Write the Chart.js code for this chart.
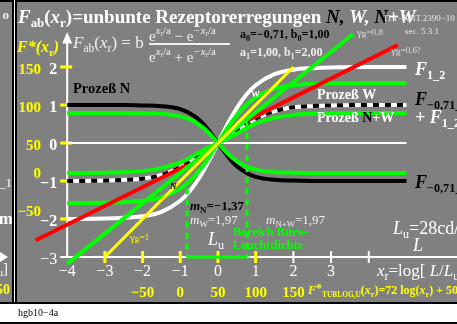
<!DOCTYPE html>
<html>
<head>
<meta charset="utf-8">
<style>
html, body { margin: 0; padding: 0; background: #fff; overflow: hidden; }
canvas { display: block; }
</style>
</head>
<body>
<canvas id="c" width="457" height="324"></canvas>
<script src="https://cdn.jsdelivr.net/npm/chart.js@4/dist/chart.umd.min.js"></script>
<script>
// x_r = log[L/Lu], Stuetzstellen der Kurven
var xs = [-4, -3, -2.5, -2, -1.5, -1, -0.75, -0.5, -0.25, 0, 0.25, 0.5, 0.75, 1, 1.5, 2, 2.5, 3, 4, 5];
// Prozess N  (a0=-0,71, b0=1,00)
var procN = [1.00, 1.00, 1.00, 0.99, 0.97, 0.89, 0.78, 0.61, 0.34, 0, -0.34, -0.61, -0.78, -0.89, -0.97, -0.99, -1.00, -1.00, -1.00, -1.00];
// Prozess W  (a1=1,00, b1=2,00)
var procW = [-2.00, -1.99, -1.97, -1.93, -1.81, -1.52, -1.27, -0.92, -0.49, 0, 0.49, 0.92, 1.27, 1.52, 1.81, 1.93, 1.97, 1.99, 2.00, 2.00];
// Prozess N+W
var procNW = [-1.00, -0.99, -0.97, -0.94, -0.84, -0.64, -0.49, -0.32, -0.15, 0, 0.15, 0.32, 0.49, 0.64, 0.84, 0.94, 0.97, 0.99, 1.00, 1.00];
// gruene Kurven
var greenN = [0.79, 0.79, 0.79, 0.78, 0.77, 0.70, 0.62, 0.48, 0.27, 0, -0.27, -0.48, -0.62, -0.70, -0.77, -0.78, -0.79, -0.79, -0.79, -0.79];
var greenW = [-1.58, -1.57, -1.56, -1.52, -1.43, -1.20, -1.00, -0.73, -0.39, 0, 0.39, 0.73, 1.00, 1.20, 1.43, 1.52, 1.56, 1.57, 1.58, 1.58];
var greenNW = [-0.79, -0.78, -0.77, -0.74, -0.66, -0.51, -0.39, -0.25, -0.12, 0, 0.12, 0.25, 0.39, 0.51, 0.66, 0.74, 0.77, 0.78, 0.79, 0.79];

// Geraden gamma_R
var gam1X = [-3, 2], gam1Y = [-3, 2];             // gamma_R = 1
var gam08X = [-4, 3.58], gam08Y = [-3.18, 2.86];  // gamma_R = 0,8
var gam06aX = [-4.83, -0.82], gam06aY = [-2.56, -0.58];
var gam06bX = [0.8, 4.77], gam06bY = [0.6, 2.58];

// Bereich Buero-Leuchtdichte
var bereichX = [-0.82, 0.77];
var bereichTop = [-1.2, 0.55];

var xTicks = [-4, -3, -2, -1, 0, 1, 2, 3];
var yTicks = [2, 1, 0, -1, -2, -3];
var fStarBottom = [-50, 0, 50, 100, 150];   // bei x = -2 .. 2
var fStarLeft = [150, 100, 50, 0, -50];     // bei y = 2 .. -2

var GREY = '#808080';
var SERIF = '"Liberation Serif", "Times New Roman", serif';

function pts(xa, ya) {
    return xa.map(function (x, i) { return { x: x, y: ya[i] }; });
}

// Text mit Indizes: parts = [text, flags, color, scale, dy]
function rich(ctx, x, y, parts, size, color, align) {
    var runs = [], w = 0;
    parts.forEach(function (p) {
        var f = p[1] || '';
        var sc = p[3] || (f.indexOf('_') >= 0 || f.indexOf('^') >= 0 ? 0.68 : 1);
        var dy = p[4] !== undefined ? p[4] : (f.indexOf('_') >= 0 ? 0.3 : (f.indexOf('^') >= 0 ? -0.4 : 0));
        var font = (f.indexOf('i') >= 0 ? 'italic ' : '') + (f.indexOf('b') >= 0 ? 'bold ' : '') +
            (size * sc).toFixed(1) + 'px ' + SERIF;
        ctx.font = font;
        var tw = ctx.measureText(p[0]).width;
        runs.push({ t: p[0], font: font, dy: dy * size, c: p[2] || color, w: tw });
        w += tw;
    });
    if (align === 'right') x -= w;
    else if (align === 'center') x -= w / 2;
    ctx.textBaseline = 'middle';
    ctx.textAlign = 'left';
    runs.forEach(function (r) {
        ctx.font = r.font;
        ctx.fillStyle = r.c;
        ctx.fillText(r.t, x, y + r.dy);
        x += r.w;
    });
    return w;
}

var framePlugin = {
    id: 'frame',
    beforeDraw: function (chart) {
        var ctx = chart.ctx;
        ctx.save();
        ctx.fillStyle = '#fff';
        ctx.fillRect(0, 0, 457, 324);
        ctx.fillStyle = GREY;
        ctx.fillRect(0, 0, 457, 303);
        ctx.fillStyle = '#000';
        ctx.fillRect(0, 0, 457, 2);
        ctx.fillRect(12, 0, 2, 303);
        ctx.fillRect(15, 0, 2, 303);
        ctx.fillRect(0, 302, 457, 2);
        ctx.fillRect(0, 322, 457, 2);
        ctx.fillStyle = '#fff';
        ctx.fillRect(14, 0, 1, 302);

        // Reste des Nachbarbildes links
        ctx.beginPath();
        ctx.rect(0, 2, 12, 300);
        ctx.clip();
        rich(ctx, 9, 16, [['o', 'b']], 13, '#eee', 'right');
        rich(ctx, 12, 184, [['_1', '']], 13, '#fff', 'right');
        rich(ctx, 13, 220, [['m', 'b']], 17, '#fff', 'right');
        ctx.fillStyle = '#fff';
        ctx.beginPath();
        ctx.moveTo(0, 252); ctx.lineTo(8, 257); ctx.lineTo(0, 262); ctx.closePath();
        ctx.fill();
        rich(ctx, 8, 269, [['u', '_'], [']', '']], 15, '#fff', 'right');
        rich(ctx, 10, 290, [['150', 'b']], 14, '#ff0', 'right');
        ctx.restore();

        ctx.save();
        rich(ctx, 18, 313, [['hgb10\u22124a', '']], 10, '#000');
        ctx.restore();
    },
    beforeDatasetsDraw: function (chart) {
        var ctx = chart.ctx, sx = chart.scales.x, sy = chart.scales.y;
        var px = function (v) { return sx.getPixelForValue(v); };
        var py = function (v) { return sy.getPixelForValue(v); };
        ctx.save();
        ctx.strokeStyle = '#fff';
        ctx.lineWidth = 2;
        ctx.beginPath();
        ctx.moveTo(px(-4), py(-3));
        ctx.lineTo(px(-4), py(2.75));
        ctx.moveTo(px(-4), py(-3));
        ctx.lineTo(457, py(-3));
        ctx.stroke();
        // Pfeil y-Achse
        ctx.fillStyle = '#fff';
        ctx.beginPath();
        ctx.moveTo(px(-4), py(2.92));
        ctx.lineTo(px(-4) - 5, py(2.62));
        ctx.lineTo(px(-4) + 5, py(2.62));
        ctx.closePath();
        ctx.fill();
        // Teilstriche
        yTicks.forEach(function (v) {
            ctx.strokeStyle = v >= -2 ? '#ff0' : '#fff';
            ctx.lineWidth = v >= -2 ? 3 : 2;
            ctx.beginPath();
            ctx.moveTo(px(-4) - 7, py(v));
            ctx.lineTo(px(-4) + 5, py(v));
            ctx.stroke();
        });
        [-3, -2, -1, 0, 1, 2, 3, 4].forEach(function (v) {
            ctx.strokeStyle = v <= 1 ? '#ff0' : '#fff';
            ctx.lineWidth = v <= 1 ? 3 : 2;
            ctx.beginPath();
            ctx.moveTo(px(v), py(-3) - 6);
            ctx.lineTo(px(v), py(-3) + 6);
            ctx.stroke();
        });
        ctx.restore();
    },
    afterDatasetsDraw: function (chart) {
        var ctx = chart.ctx, sx = chart.scales.x, sy = chart.scales.y;
        var px = function (v) { return sx.getPixelForValue(v); };
        var py = function (v) { return sy.getPixelForValue(v); };
        ctx.save();

        // Achsenbeschriftung
        xTicks.forEach(function (v) {
            rich(ctx, px(v), py(-3) + 15, [[v < 0 ? '\u2212' + (-v) : String(v), '']], 16, '#fff', 'center');
        });
        yTicks.forEach(function (v) {
            if (v === -3) {
                rich(ctx, px(-4) - 10, py(v) + 3, [['\u22123', '']], 16, '#fff', 'right');
            } else {
                rich(ctx, px(-4) - 10, py(v) + 3, [[v < 0 ? '\u2212' + (-v) : String(v), 'b']], 16, '#fff', 'right');
            }
        });
        fStarBottom.forEach(function (v, i) {
            rich(ctx, px(i - 2), 293, [[v < 0 ? '\u2212' + (-v) : String(v), 'b']], 15, '#ff0', 'center');
        });
        fStarLeft.forEach(function (v, i) {
            var yy = py(2 - i) + (v > 0 ? 3 : -7);
            rich(ctx, 41, yy, [[v < 0 ? '\u2212' + (-v) : String(v), 'b']], 15, '#ff0', 'right');
        });

        // Titel
        rich(ctx, 18, 18, [['F', 'ib'], ['ab', 'b_'], ['(', 'b'], ['x', 'ib'], ['r', 'b_'],
            [')=unbunte Rezeptorerregungen ', 'b'], ['N,', 'ib', '#000'], [' W,', 'ib'],
            [' N', 'ib', '#000'], ['+W', 'ib']], 19, '#fff');
        rich(ctx, 384, 19, [['ITT\u2212KBT.2390\u221210', '']], 9, '#e6e6e6');
        rich(ctx, 405, 32, [['sec. 5.3.1', '']], 9, '#e6e6e6');

        rich(ctx, 17, 48, [['F*(', 'ib'], ['x', 'ib'], ['r', 'b_'], [')', 'ib']], 16, '#ff0');

        // Formel
        rich(ctx, 73, 44, [['F', 'i'], ['ab', '_'], ['(', ''], ['x', 'i'], ['r', '_'], [') = b', '']], 17, '#f0f0f0');
        var numer = [['e', ''], ['x', 'i', null, 0.72, -0.42], ['r', '', null, 0.5, -0.22], ['/a', '', null, 0.72, -0.42],
            [' \u2212 e', ''], ['\u2212x', 'i', null, 0.72, -0.42], ['r', '', null, 0.5, -0.22], ['/a', '', null, 0.72, -0.42]];
        var denom = [['e', ''], ['x', 'i', null, 0.72, -0.42], ['r', '', null, 0.5, -0.22], ['/a', '', null, 0.72, -0.42],
            [' + e', ''], ['\u2212x', 'i', null, 0.72, -0.42], ['r', '', null, 0.5, -0.22], ['/a', '', null, 0.72, -0.42]];
        rich(ctx, 149, 37, numer, 15, '#f0f0f0');
        ctx.fillStyle = '#f0f0f0';
        ctx.fillRect(149, 43, 81, 2);
        rich(ctx, 149, 58, denom, 15, '#f0f0f0');

        rich(ctx, 240, 35, [['a', 'b'], ['0', 'b_'], ['=\u22120,71, b', 'b'], ['0', 'b_'], ['=1,00', 'b']], 12, '#000');
        rich(ctx, 240, 53, [['a', 'b'], ['1', 'b_'], ['=1,00, b', 'b'], ['1', 'b_'], ['=2,00', 'b']], 12, '#eee');

        rich(ctx, 357, 33, [['\u03b3', ''], ['R', '_'], ['=0,8', '', null, 0.8, 0]], 11, '#ddd');
        rich(ctx, 391, 51, [['\u03b3', ''], ['R', '_'], ['=0,6?', '', null, 0.8, 0]], 11, '#ddd');
        rich(ctx, 130, 238, [['\u03b3', ''], ['R', '_'], ['=1', '', null, 0.8, 0]], 11, '#ff0');

        // Prozesse
        rich(ctx, 73, 89, [['Proze\u00df N', 'b']], 14.5, '#000');
        rich(ctx, 317, 95, [['Proze\u00df W', 'b']], 14, '#fff');
        rich(ctx, 317, 118, [['Proze\u00df ', 'b'], ['N', 'b', '#000'], ['+W', 'b']], 14, '#fff');
        rich(ctx, 251, 95, [['W', 'b']], 9, '#fff');
        rich(ctx, 170, 187, [['N', 'bi']], 9, '#000');

        rich(ctx, 415, 70, [['F', 'ib'], ['1_2', 'b_']], 18, '#fff');
        rich(ctx, 415, 100, [['F', 'ib'], ['\u22120,71_', 'b_']], 18, '#000');
        rich(ctx, 415, 118, [['+ F', 'ib'], ['1_2', 'b_']], 18, '#fff');
        rich(ctx, 415, 183, [['F', 'ib'], ['\u22120,71_', 'b_']], 18, '#000');

        // Steigungen
        rich(ctx, 190, 207, [['m', 'ib'], ['N', 'b_'], ['=\u22121,37', 'b']], 13, '#000');
        rich(ctx, 190, 221, [['m', 'i'], ['W', '_'], ['=1,97', '']], 13, '#eee');
        rich(ctx, 266, 221, [['m', 'i'], ['N+W', '_'], ['=1,97', '']], 13, '#eee');

        rich(ctx, 233, 233, [['Bereich B\u00fcro-', 'b']], 12.5, '#0f0');
        rich(ctx, 233, 246, [['Leuchtdichte', 'b']], 12.5, '#0f0');
        rich(ctx, 208, 240, [['L', 'i'], ['u', '_']], 18, '#fff');

        rich(ctx, 393, 229, [['L', 'i'], ['u', '_'], ['=28cd/m', '']], 18, '#fff');
        rich(ctx, 413, 246, [['L', 'i']], 18, '#fff');
        rich(ctx, 377, 272, [['x', 'i'], ['r', '_'], ['=log[ ', ''], ['L', 'i'], ['/', ''], ['L', 'i'], ['u', '_'], [']', '']], 17, '#fff');

        rich(ctx, 308, 291, [['F', 'ib'], ['*', 'b', null, 1, -0.15], ['TUBLOG,U', 'b_', null, 0.62], ['(', 'b'], ['x', 'bi'], ['r', 'b_'],
            [')=72 log(', 'b'], ['x', 'bi'], ['r', 'b_'], [') + 50', 'b']], 12, '#ff0');

        ctx.restore();
    }
};

var line = function (data, color, width, extra) {
    var d = {
        data: data, borderColor: color, borderWidth: width, pointRadius: 0,
        fill: false, cubicInterpolationMode: 'monotone'
    };
    for (var k in extra) d[k] = extra[k];
    return d;
};

new Chart(document.getElementById('c'), {
    type: 'line',
    data: {
        datasets: [
            line(pts(gam1X, gam1Y), '#ffff00', 3),
            line(pts(gam08X, gam08Y), '#00ff00', 4),
            line(pts(gam06aX, gam06aY), '#ff0000', 4),
            line(pts(gam06bX, gam06bY), '#ff0000', 4),
            line([{ x: bereichX[0], y: bereichTop[0] }, { x: bereichX[0], y: -3 }], '#00ff00', 3, { borderDash: [6, 5] }),
            line([{ x: bereichX[1], y: bereichTop[1] }, { x: bereichX[1], y: -3 }], '#00ff00', 3, { borderDash: [6, 5] }),
            line([{ x: bereichX[0], y: -3 }, { x: bereichX[1], y: -3 }], '#00ff00', 3),
            line(pts(xs, greenW), '#00ff00', 4),
            line(pts(xs, greenNW), '#00ff00', 4),
            line(pts(xs, greenN), '#00ff00', 4),
            line(pts(xs, procNW), '#000000', 4, { borderDash: [6, 6] }),
            line(pts(xs, procNW), '#ffffff', 4),
            line(pts(xs, procN), '#000000', 4),
            line(pts(xs, procW), '#ffffff', 4),
            line([{ x: -4, y: 0 }, { x: 5, y: 0 }], '#ffffff', 2)
        ]
    },
    options: {
        responsive: false,
        animation: false,
        devicePixelRatio: 1,
        layout: { padding: 0 },
        scales: {
            x: { type: 'linear', min: -5.782, max: 6.34, display: false },
            y: { type: 'linear', min: -4.763, max: 3.763, display: false }
        },
        plugins: { legend: { display: false }, tooltip: { enabled: false } }
    },
    plugins: [framePlugin]
});
</script>
</body>
</html>
